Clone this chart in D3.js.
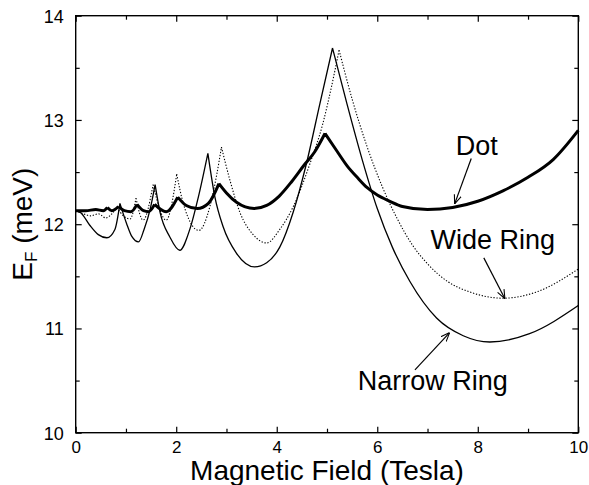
<!DOCTYPE html>
<html>
<head>
<meta charset="utf-8">
<script src="https://cdn.jsdelivr.net/npm/d3@7"></script>
<style>
  html, body { margin: 0; padding: 0; background: #fff; }
  svg { display: block; }
  text { font-family: "Liberation Sans", Arial, Helvetica, sans-serif; fill: #000; }
</style>
</head>
<body>
<svg id="chart" width="589" height="485"></svg>
<script>
// ---- data ----
const xMajorTicks = [0, 2, 4, 6, 8, 10];
const xMinorTicks = [1, 3, 5, 7, 9];
const yMajorTicks = [10, 11, 12, 13, 14];
const yMinorTicks = [10.5, 11.5, 12.5, 13.5];

const dotB = [0, 0.2, 0.4, 0.55, 0.63, 0.72, 0.85, 0.97, 1.1, 1.22, 1.35, 1.45, 1.57, 1.8, 2.03, 2.2, 2.42, 2.64, 2.85, 3.0, 3.2, 3.55, 3.8, 4.05, 4.3, 4.55, 4.75, 4.96, 5.2, 5.4, 5.6, 5.8, 6.0, 6.25, 6.5, 7.0, 7.5, 8.0, 8.5, 9.0, 9.5, 10];
const dotE = [12.13, 12.13, 12.14, 12.13, 12.16, 12.13, 12.17, 12.13, 12.12, 12.19, 12.13, 12.12, 12.19, 12.12, 12.26, 12.18, 12.15, 12.2, 12.39, 12.3, 12.21, 12.15, 12.18, 12.27, 12.41, 12.57, 12.69, 12.87, 12.7, 12.56, 12.45, 12.35, 12.28, 12.22, 12.17, 12.14, 12.16, 12.22, 12.32, 12.45, 12.62, 12.9];
const dotCusps = [0.63, 0.85, 1.22, 1.57, 2.03, 2.85, 4.96];

const wideB = [0, 0.15, 0.3, 0.45, 0.6, 0.72, 0.82, 0.95, 1.08, 1.2, 1.34, 1.54, 1.8, 2.01, 2.14, 2.45, 2.67, 2.8, 2.9, 3.07, 3.27, 3.53, 3.8, 4.06, 4.33, 4.66, 4.92, 5.09, 5.24, 5.5, 5.8, 6.1, 6.4, 6.7, 7.0, 7.4, 7.84, 8.5, 9.17, 10];
const wideE = [12.13, 12.1, 12.08, 12.1, 12.06, 12.1, 12.16, 12.08, 12.05, 12.25, 12.04, 12.38, 12.04, 12.48, 12.2, 11.94, 12.17, 12.46, 12.74, 12.42, 12.11, 11.9, 11.82, 11.95, 12.17, 12.58, 12.97, 13.32, 13.67, 13.2, 12.74, 12.36, 12.05, 11.8, 11.62, 11.45, 11.35, 11.29, 11.35, 11.57];
const wideCusps = [0.82, 1.2, 1.54, 2.01, 2.9, 5.24];

const narrowB = [0, 0.1, 0.28, 0.45, 0.62, 0.78, 0.88, 1.01, 1.12, 1.25, 1.36, 1.48, 1.58, 1.68, 1.87, 2.07, 2.27, 2.44, 2.63, 2.77, 2.93, 3.2, 3.56, 3.8, 4.06, 4.33, 4.59, 4.86, 5.11, 5.4, 5.7, 6.0, 6.3, 6.65, 7.18, 7.71, 8.24, 9.03, 10];
const narrowE = [12.13, 12.11, 11.99, 11.9, 11.87, 11.95, 12.2, 12.01, 11.88, 11.83, 11.95, 12.14, 12.38, 12.11, 11.88, 11.75, 11.95, 12.26, 12.68, 12.26, 11.98, 11.72, 11.59, 11.63, 11.78, 12.12, 12.58, 13.16, 13.69, 13.15, 12.62, 12.15, 11.78, 11.45, 11.1, 10.93, 10.87, 10.95, 11.22];
const narrowCusps = [0.88, 1.58, 2.63, 5.11];

// annotations
const labels = ["Dot", "Wide Ring", "Narrow Ring"];
const labelPos = [[7.56, 12.664], [7.06, 11.76], [5.61, 10.411]];
const arrowFrom = [[7.87, 12.63], [8.12, 11.677], [6.75, 10.603]];
const arrowTo = [[7.54, 12.195], [8.54, 11.285], [7.44, 10.96]];

// ---- layout ----
const svg = d3.select("#chart");
const pLeft = 75.7, pRight = 578.3, pTop = 15.7, pBottom = 432.7;
const x = d3.scaleLinear().domain([0, 10]).range([pLeft, pRight]);
const y = d3.scaleLinear().domain([10, 14]).range([pBottom, pTop]);

const defs = svg.append("defs");
defs.append("marker")
  .attr("id", "arrow").attr("viewBox", "0 0 10 10")
  .attr("refX", 10).attr("refY", 5)
  .attr("markerWidth", 9).attr("markerHeight", 9)
  .attr("markerUnits", "userSpaceOnUse")
  .attr("orient", "auto")
  .append("path").attr("d", "M0,1 L10,5 L0,9")
  .attr("fill", "none").attr("stroke", "#000").attr("stroke-width", 1.2);

// curves: split at cusps, each piece smooth (monotone)
function pathFor(B, E, cusps) {
  const pts = B.map((b, i) => [b, E[i]]);
  const segs = [];
  let cur = [];
  pts.forEach(p => {
    cur.push(p);
    if (cusps.includes(p[0])) { segs.push(cur); cur = [p]; }
  });
  if (cur.length > 1) segs.push(cur);
  const line = d3.line().x(d => x(d[0])).y(d => y(d[1])).curve(d3.curveMonotoneX);
  return segs.map(s => line(s)).join("");
}

const g = svg.append("g");
g.append("path").attr("d", pathFor(wideB, wideE, wideCusps))
  .attr("fill", "none").attr("stroke", "#000").attr("stroke-width", 1.1)
  .attr("stroke-dasharray", "1.3,1.7");
g.append("path").attr("d", pathFor(narrowB, narrowE, narrowCusps))
  .attr("fill", "none").attr("stroke", "#000").attr("stroke-width", 1.3);
g.append("path").attr("d", pathFor(dotB, dotE, dotCusps))
  .attr("fill", "none").attr("stroke", "#000").attr("stroke-width", 3);

// ---- axes (ticks inward, on all four sides) ----
function styleAxis(sel) {
  sel.select(".domain").remove();
  sel.selectAll(".tick line").attr("stroke", "#000").attr("stroke-width", 1.2);
}
const fmt = d3.format("d");
svg.append("g").attr("transform", `translate(0,${pBottom})`)
  .call(d3.axisBottom(x).tickValues(xMajorTicks).tickSize(-6).tickFormat(fmt))
  .call(styleAxis)
  .call(s => s.selectAll("text").attr("font-size", 17).attr("font-family", "Liberation Sans, Arial, sans-serif").attr("fill", "#000").attr("y", 8).attr("dy", "0.71em"));
svg.append("g").attr("transform", `translate(0,${pBottom})`)
  .call(d3.axisBottom(x).tickValues(xMinorTicks).tickSize(-4).tickFormat(""))
  .call(styleAxis);
svg.append("g").attr("transform", `translate(0,${pTop})`)
  .call(d3.axisTop(x).tickValues(xMajorTicks).tickSize(-6).tickFormat(""))
  .call(styleAxis);
svg.append("g").attr("transform", `translate(0,${pTop})`)
  .call(d3.axisTop(x).tickValues(xMinorTicks).tickSize(-4).tickFormat(""))
  .call(styleAxis);
svg.append("g").attr("transform", `translate(${pLeft},0)`)
  .call(d3.axisLeft(y).tickValues(yMajorTicks).tickSize(-6).tickFormat(fmt))
  .call(styleAxis)
  .call(s => s.selectAll("text").attr("font-size", 18).attr("font-family", "Liberation Sans, Arial, sans-serif").attr("fill", "#000").attr("x", -12).attr("dy", "0.36em"));
svg.append("g").attr("transform", `translate(${pLeft},0)`)
  .call(d3.axisLeft(y).tickValues(yMinorTicks).tickSize(-4).tickFormat(""))
  .call(styleAxis);
svg.append("g").attr("transform", `translate(${pRight},0)`)
  .call(d3.axisRight(y).tickValues(yMajorTicks).tickSize(-6).tickFormat(""))
  .call(styleAxis);
svg.append("g").attr("transform", `translate(${pRight},0)`)
  .call(d3.axisRight(y).tickValues(yMinorTicks).tickSize(-4).tickFormat(""))
  .call(styleAxis);

svg.append("rect").attr("x", pLeft).attr("y", pTop)
  .attr("width", pRight - pLeft).attr("height", pBottom - pTop)
  .attr("fill", "none").attr("stroke", "#000").attr("stroke-width", 1.4);

// ---- titles ----
svg.append("text").attr("x", (pLeft + pRight) / 2).attr("y", 480)
  .attr("text-anchor", "middle").attr("font-size", 28)
  .text("Magnetic Field (Tesla)");

const yt = svg.append("text")
  .attr("transform", `translate(31.5,${(pTop + pBottom) / 2}) rotate(-90)`)
  .attr("text-anchor", "middle").attr("font-size", 28);
yt.append("tspan").text("E");
yt.append("tspan").attr("font-size", 17).attr("dy", 5).text("F");
yt.append("tspan").attr("dy", -5).text(" (meV)");

// ---- annotations ----
labels.forEach((t, i) => {
  svg.append("text").attr("x", x(labelPos[i][0])).attr("y", y(labelPos[i][1]))
    .attr("font-size", 27).text(t);
  svg.append("line")
    .attr("x1", x(arrowFrom[i][0])).attr("y1", y(arrowFrom[i][1]))
    .attr("x2", x(arrowTo[i][0])).attr("y2", y(arrowTo[i][1]))
    .attr("stroke", "#000").attr("stroke-width", 1.2)
    .attr("marker-end", "url(#arrow)");
});
</script>
</body>
</html>
